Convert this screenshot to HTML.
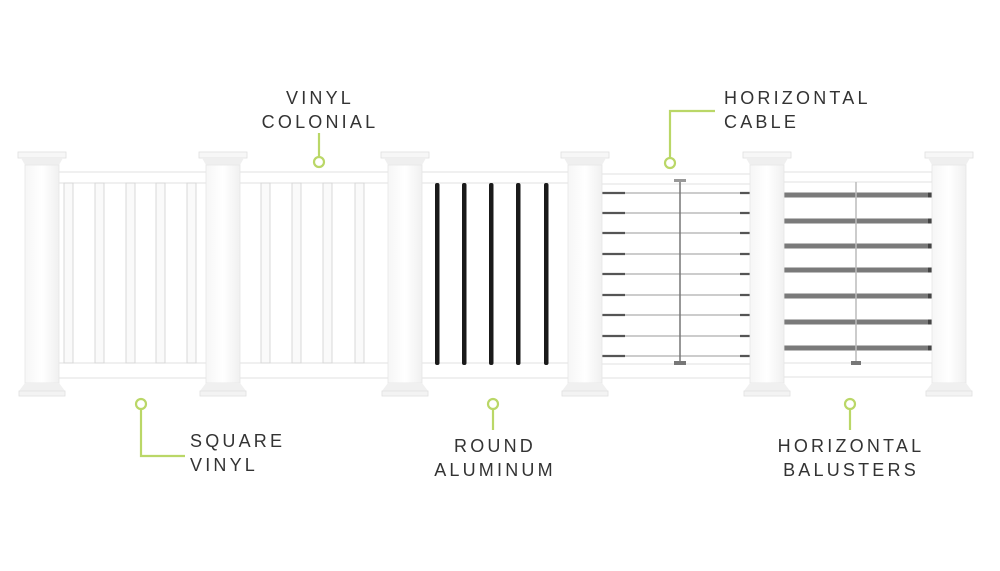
<!DOCTYPE html>
<html><head><meta charset="utf-8"><style>
html,body{margin:0;padding:0;background:#fff;}
svg{display:block}
text{font-family:"Liberation Sans",sans-serif;font-size:18px;fill:#333;letter-spacing:3.2px}
</style></head><body>
<svg width="1000" height="571" viewBox="0 0 1000 571" xmlns="http://www.w3.org/2000/svg">
<defs>
<linearGradient id="pg" x1="0" x2="1"><stop offset="0" stop-color="#f6f6f6"/><stop offset="0.5" stop-color="#fff"/><stop offset="1" stop-color="#f0f0f0"/></linearGradient>
<g id="post">
  <rect x="-24" y="152" width="48" height="6" fill="#f7f7f7" stroke="#e0e0e0" stroke-width="0.8"/>
  <polygon points="-21,158 21,158 17,165 -17,165" fill="#efefef"/>
  <rect x="-17" y="165" width="34" height="218" fill="url(#pg)" stroke="#e6e6e6" stroke-width="0.8"/>
  <polygon points="-17,383 17,383 23,391 -23,391" fill="#f0f0f0"/>
  <rect x="-23" y="391" width="46" height="5" fill="#f3f3f3" stroke="#e0e0e0" stroke-width="0.8"/>
</g>
</defs>
<g fill="#fff" stroke="#dedede" stroke-width="0.9">
 <rect x="52" y="172" width="520" height="11"/>
 <rect x="592" y="174" width="170" height="10"/>
 <rect x="772" y="172" width="160" height="10"/>
 <rect x="52" y="363" width="520" height="15"/>
 <rect x="592" y="364" width="170" height="14"/>
 <rect x="772" y="363" width="160" height="14"/>
</g>
<g fill="#fafafa" stroke="#d8d8d8" stroke-width="1">
 <rect x="64" y="183" width="9" height="180"/>
 <rect x="95" y="183" width="9" height="180"/>
 <rect x="126" y="183" width="9" height="180"/>
 <rect x="156" y="183" width="9" height="180"/>
 <rect x="187" y="183" width="9" height="180"/>
 <rect x="261" y="183" width="9" height="180"/>
 <rect x="292" y="183" width="9" height="180"/>
 <rect x="323" y="183" width="9" height="180"/>
 <rect x="355" y="183" width="9" height="180"/>
</g>
<g fill="#1a1a1a">
 <rect x="435" y="183" width="4.5" height="182" rx="2"/>
 <rect x="462" y="183" width="4.5" height="182" rx="2"/>
 <rect x="489" y="183" width="4.5" height="182" rx="2"/>
 <rect x="516" y="183" width="4.5" height="182" rx="2"/>
 <rect x="544" y="183" width="4.5" height="182" rx="2"/>
</g>
<g stroke="#999" stroke-width="1">
 <line x1="601" y1="193" x2="751" y2="193"/><line x1="601" y1="213" x2="751" y2="213"/>
 <line x1="601" y1="233" x2="751" y2="233"/><line x1="601" y1="254" x2="751" y2="254"/>
 <line x1="601" y1="274" x2="751" y2="274"/><line x1="601" y1="295" x2="751" y2="295"/>
 <line x1="601" y1="315" x2="751" y2="315"/><line x1="601" y1="336" x2="751" y2="336"/>
 <line x1="601" y1="356" x2="751" y2="356"/>
</g>
<g stroke="#555" stroke-width="2.2">
 <path d="M601 193h24M601 213h24M601 233h24M601 254h24M601 274h24M601 295h24M601 315h24M601 336h24M601 356h24"/>
 <path d="M740 193h11M740 213h11M740 233h11M740 254h11M740 274h11M740 295h11M740 315h11M740 336h11M740 356h11"/>
</g>
<line x1="680" y1="182" x2="680" y2="362" stroke="#777" stroke-width="1.5"/>
<rect x="674" y="179" width="12" height="3" fill="#999"/>
<rect x="674" y="361" width="12" height="4" fill="#777"/>
<g stroke="#7a7a7a" stroke-width="5" stroke-linecap="round">
 <path d="M781 195h153M781 221h153M781 246h153M781 270h153M781 296h153M781 322h153M781 348h153"/>
</g>
<g stroke="#444" stroke-width="5">
 <path d="M778 195h6M778 221h6M778 246h6M778 270h6M778 296h6M778 322h6M778 348h6"/>
 <path d="M928 195h7M928 221h7M928 246h7M928 270h7M928 296h7M928 322h7M928 348h7"/>
</g>
<line x1="856" y1="182" x2="856" y2="362" stroke="#bbb" stroke-width="1.5"/>
<rect x="851" y="361" width="10" height="4" fill="#777"/>
<use href="#post" x="42"/><use href="#post" x="223"/><use href="#post" x="405"/>
<use href="#post" x="585"/><use href="#post" x="767"/><use href="#post" x="949"/>
<g stroke="#bad767" stroke-width="2.2" fill="#fff">
 <path d="M319 133V156" fill="none"/><circle cx="319" cy="162" r="5"/>
 <path d="M715 111H670V157" fill="none"/><circle cx="670" cy="163" r="5"/>
 <path d="M141 409V456H185" fill="none"/><circle cx="141" cy="404" r="5"/>
 <path d="M493 409V430" fill="none"/><circle cx="493" cy="404" r="5"/>
 <path d="M850 409V430" fill="none"/><circle cx="850" cy="404" r="5"/>
</g>
<text x="320" y="104" text-anchor="middle">VINYL</text>
<text x="320" y="128" text-anchor="middle">COLONIAL</text>
<text x="724" y="104">HORIZONTAL</text>
<text x="724" y="128">CABLE</text>
<text x="190" y="447">SQUARE</text>
<text x="190" y="471">VINYL</text>
<text x="495" y="452" text-anchor="middle">ROUND</text>
<text x="495" y="476" text-anchor="middle">ALUMINUM</text>
<text x="851" y="452" text-anchor="middle">HORIZONTAL</text>
<text x="851" y="476" text-anchor="middle">BALUSTERS</text>
</svg>
</body></html>
